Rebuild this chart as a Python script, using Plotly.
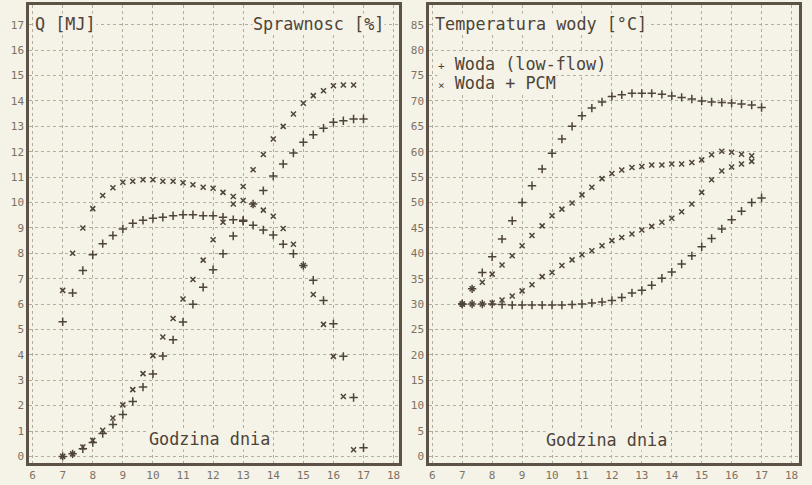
import plotly.graph_objects as go

# ---------------- data ----------------
time_h = [7.00, 7.33, 7.67, 8.00, 8.33, 8.67, 9.00, 9.33, 9.67, 10.00,
          10.33, 10.67, 11.00, 11.33, 11.67, 12.00, 12.33, 12.67, 13.00, 13.33,
          13.67, 14.00, 14.33, 14.67, 15.00, 15.33, 15.67, 16.00, 16.33, 16.67,
          17.00]

# left panel: cumulative heat Q [MJ]
q_lowflow = [0.0, 0.1, 0.3, 0.55, 0.9, 1.26, 1.65, 2.16, 2.73, 3.25,
             3.95, 4.59, 5.29, 5.99, 6.66, 7.35, 7.98, 8.68, 9.3, 9.94,
             10.47, 11.04, 11.52, 11.95, 12.37, 12.67, 12.93, 13.16, 13.22, 13.29,
             13.29]
q_pcm = [0.0, 0.1, 0.37, 0.63, 1.03, 1.51, 2.03, 2.63, 3.26, 3.97,
         4.70, 5.43, 6.2, 6.97, 7.73, 8.53, 9.22, 9.94, 10.63, 11.29,
         11.89, 12.50, 13.0, 13.49, 13.91, 14.21, 14.40, 14.60, 14.63, 14.63]

# left panel: efficiency [%]
eta_lowflow = [26.5, 32.2, 36.6, 39.7, 41.9, 43.5, 44.8, 45.9, 46.5, 46.9,
               47.1, 47.4, 47.6, 47.6, 47.4, 47.4, 47.1, 46.6, 46.3, 45.5,
               44.6, 43.6, 41.8, 39.9, 37.6, 34.7, 30.7, 26.1, 19.7, 11.6,
               1.7]
eta_pcm = [32.7, 40.0, 45.0, 48.8, 51.4, 52.9, 54.0, 54.2, 54.5, 54.5,
           54.2, 54.2, 53.9, 53.5, 53.0, 52.8, 52.0, 51.2, 50.4, 49.6,
           48.5, 47.3, 44.9, 41.8, 37.6, 31.9, 26.0, 19.7, 11.8, 1.3]

# right panel: water temperature [°C]
temp_top_lowflow = [30.0, 33.0, 36.2, 39.3, 42.8, 46.4, 50.0, 53.3, 56.6, 59.7,
                    62.5, 65.0, 67.1, 68.6, 69.8, 70.9, 71.2, 71.5, 71.5, 71.5,
                    71.3, 71.0, 70.7, 70.4, 70.0, 69.8, 69.7, 69.6, 69.4, 69.2,
                    68.7]
temp_bot_lowflow = [30.0, 30.0, 30.0, 30.0, 29.9, 29.8, 29.8, 29.8, 29.8, 29.8,
                    29.8, 29.9, 30.0, 30.2, 30.4, 30.7, 31.3, 32.2, 32.7, 33.7,
                    35.1, 36.3, 37.9, 39.5, 41.3, 42.9, 44.8, 46.6, 48.3, 50.0,
                    50.9]
temp_top_pcm = [30.0, 33.0, 34.3, 35.9, 37.7, 39.5, 41.5, 43.5, 45.4, 47.4,
                48.7, 49.9, 51.5, 53.0, 54.7, 55.7, 56.4, 56.9, 57.1, 57.4,
                57.4, 57.6, 57.6, 57.9, 58.4, 59.4, 60.1, 59.9, 59.5, 59.2]
temp_bot_pcm = [30.0, 30.0, 30.0, 30.2, 30.8, 31.6, 32.6, 33.8, 35.4, 36.2,
                37.6, 38.7, 39.7, 40.5, 41.5, 42.5, 43.1, 43.8, 44.6, 45.3,
                46.1, 46.9, 48.2, 49.7, 52.0, 54.5, 56.2, 57.0, 57.6, 58.1]

hour_ticks = list(range(6, 19))
q_ticks = list(range(0, 18))
temp_ticks = list(range(0, 90, 5))

# ---------------- style ----------------
W, H = 812, 485
BG = "#f5f2e8"
INK = "#4e4438"
TICK = "#7c7264"
GRID = "#b3ad9f"
FRAME = "#5d5246"
FONT = "DejaVu Sans Mono"

def px_x(p):
    return p / W

def px_y(p):
    return 1 - p / H

plus = dict(symbol="cross-thin", size=6, line=dict(width=1.5, color=INK), color=INK)
cross = dict(symbol="x-thin", size=5, line=dict(width=1.5, color=INK), color=INK)

fig = go.Figure()

fig.add_trace(go.Scatter(x=time_h, y=q_lowflow, mode="markers", marker=plus,
                         xaxis="x", yaxis="y", showlegend=False))
fig.add_trace(go.Scatter(x=time_h[:len(q_pcm)], y=q_pcm, mode="markers", marker=cross,
                         xaxis="x", yaxis="y", showlegend=False))
fig.add_trace(go.Scatter(x=time_h, y=eta_lowflow, mode="markers", marker=plus,
                         xaxis="x", yaxis="y3", showlegend=False))
fig.add_trace(go.Scatter(x=time_h[:len(eta_pcm)], y=eta_pcm, mode="markers", marker=cross,
                         xaxis="x", yaxis="y3", showlegend=False))

fig.add_trace(go.Scatter(x=time_h, y=temp_top_lowflow, mode="markers", marker=plus,
                         xaxis="x2", yaxis="y2", showlegend=False))
fig.add_trace(go.Scatter(x=time_h, y=temp_bot_lowflow, mode="markers", marker=plus,
                         xaxis="x2", yaxis="y2", showlegend=False))
fig.add_trace(go.Scatter(x=time_h[:len(temp_top_pcm)], y=temp_top_pcm, mode="markers",
                         marker=cross, xaxis="x2", yaxis="y2", showlegend=False))
fig.add_trace(go.Scatter(x=time_h[:len(temp_bot_pcm)], y=temp_bot_pcm, mode="markers",
                         marker=cross, xaxis="x2", yaxis="y2", showlegend=False))

common_axis = dict(
    showline=True, mirror=True, linewidth=2.5, linecolor=FRAME,
    showgrid=True, gridcolor=GRID, griddash="dot", gridwidth=1,
    zeroline=False, ticks="", tickfont=dict(family=FONT, size=11, color=TICK),
    fixedrange=True,
)

ydom = [px_y(463), px_y(5)]
fig.update_layout(
    width=W, height=H, autosize=False,
    margin=dict(l=0, r=0, t=0, b=0, pad=0),
    paper_bgcolor=BG, plot_bgcolor=BG,
    showlegend=False,
    xaxis=dict(common_axis, domain=[px_x(29), px_x(399)], range=[5.88, 18.18],
               tickvals=hour_ticks, anchor="y"),
    yaxis=dict(common_axis, domain=ydom, range=[-0.26, 17.78],
               tickvals=q_ticks, anchor="x"),
    yaxis3=dict(overlaying="y", anchor="x", side="right", range=[-1.3, 88.9],
                showgrid=False, showticklabels=False, zeroline=False,
                showline=False, fixedrange=True),
    xaxis2=dict(common_axis, domain=[px_x(429), px_x(799)], range=[5.89, 18.25],
                tickvals=hour_ticks, anchor="y2"),
    yaxis2=dict(common_axis, domain=ydom, range=[-1.3, 88.9],
                tickvals=temp_ticks, anchor="x2"),
)

def note(text, x, y, xanchor="left", bg=BG):
    fig.add_annotation(text=text, xref="paper", yref="paper",
                       x=px_x(x), y=px_y(y), xanchor=xanchor, yanchor="middle",
                       showarrow=False, bgcolor=bg, borderpad=0,
                       font=dict(family=FONT, size=16.8, color=INK))

note("Q [MJ]", 34, 24)
note("Sprawnosc [%]", 385, 24, xanchor="right")
note("Godzina dnia", 209, 439, xanchor="center")
note("Temperatura wody [°C]", 434, 24)
note('<span style="font-size:11px">+</span> Woda (low-flow)', 437, 64)
note('<span style="font-size:11px">×</span> Woda + PCM', 437, 83)
note("Godzina dnia", 606, 440, xanchor="center")

fig.write_html("out.html")
